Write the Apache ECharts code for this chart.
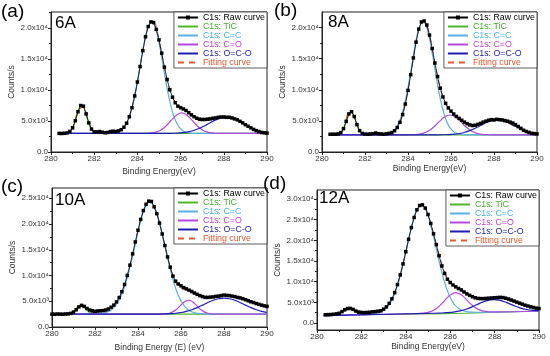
<!DOCTYPE html>
<html>
<head>
<meta charset="utf-8">
<script src="https://cdn.jsdelivr.net/npm/echarts@6/dist/echarts.min.js"></script>
<style>html,body{margin:0;padding:0;background:#fff}#c{width:550px;height:356px}</style>
</head>
<body>
<div id="c"></div>
<script>
// ---------- DATA ----------
const energy = [280,280.125,280.25,280.375,280.5,280.625,280.75,280.875,281,281.125,281.25,281.375,281.5,281.625,281.75,281.875,282,282.125,282.25,282.375,282.5,282.625,282.75,282.875,283,283.125,283.25,283.375,283.5,283.625,283.75,283.875,284,284.125,284.25,284.375,284.5,284.625,284.75,284.875,285,285.125,285.25,285.375,285.5,285.625,285.75,285.875,286,286.125,286.25,286.375,286.5,286.625,286.75,286.875,287,287.125,287.25,287.375,287.5,287.625,287.75,287.875,288,288.125,288.25,288.375,288.5,288.625,288.75,288.875,289,289.125,289.25,289.375,289.5,289.625,289.75,289.875,290];
const energyFit = [280,280.25,280.5,280.75,281,281.25,281.5,281.75,282,282.25,282.5,282.75,283,283.25,283.5,283.75,284,284.25,284.5,284.75,285,285.25,285.5,285.75,286,286.25,286.5,286.75,287,287.25,287.5,287.75,288,288.25,288.5,288.75,289,289.25,289.5,289.75,290];

// (a) 6A
const rawA = [null,null,null,3000,2990,3020,3080,3320,3900,5050,6500,7500,7400,6150,4700,3700,3250,3250,3300,3200,3100,3150,3300,3350,3300,3400,3600,4000,4650,5700,7150,9050,11300,13800,16350,18600,20250,21000,20900,19800,18100,15950,13700,11700,10050,8850,7950,7400,7150,6950,6700,6350,6000,5700,5450,5300,5250,5250,5300,5350,5450,5500,5600,5650,5650,5600,5600,5500,5350,5200,4950,4700,4400,4150,3900,3650,3450,3300,3150,3100,3050];
const fitA = [null,null,3000,3070,3910,6530,7340,4690,3210,3050,3020,3060,3150,3520,4660,7140,11310,16350,20240,20875,18070,13670,10015,8015,7190,6620,5950,5335,5060,5120,5360,5575,5650,5560,5300,4920,4450,3950,3500,3200,3080];
const ticA = [[280.4,3000],[280.62,3010],[280.72,3050],[280.82,3170],[280.92,3465],[281.02,4060],[281.12,5015],[281.22,6190],[281.32,7200],[281.42,7600],[281.52,7200],[281.62,6190],[281.72,5015],[281.82,4060],[281.92,3465],[282.02,3170],[282.12,3050],[282.22,3010],[290,3000]];
const ccA = [[280.4,3000],[282.46,3004],[282.66,3010],[282.86,3060],[283.06,3190],[283.26,3560],[283.46,4400],[283.66,6040],[283.86,8780],[284.06,12490],[284.26,16550],[284.46,19780],[284.66,21000],[284.86,19780],[285.06,16550],[285.26,12490],[285.46,8780],[285.66,6040],[285.86,4400],[286.06,3560],[286.26,3190],[286.46,3060],[286.66,3010],[286.86,3004],[290,3000]];
const coA = [[280.4,3000],[284.25,3007],[284.45,3024],[284.65,3076],[284.85,3206],[285.05,3482],[285.25,3960],[285.45,4650],[285.65,5425],[285.85,6056],[286.05,6300],[286.25,6056],[286.45,5425],[286.65,4650],[286.85,3960],[287.05,3482],[287.25,3206],[287.45,3076],[287.65,3024],[287.85,3007],[290,3000]];
const ocoA = [[280.4,3000],[285.35,3008],[285.6,3021],[285.85,3053],[286.1,3120],[286.35,3247],[286.6,3463],[286.85,3783],[287.1,4206],[287.35,4687],[287.6,5145],[287.85,5478],[288.1,5600],[288.35,5478],[288.6,5145],[288.85,4687],[289.1,4206],[289.35,3783],[289.6,3463],[289.85,3247],[290,3160]];

// (b) 8A
const rawB = [null,null,null,2850,2860,2850,2900,3120,3760,4920,6120,6480,5700,4400,3430,2980,2880,2850,2900,2950,3050,2950,2900,2850,2920,3000,3120,3420,3940,4770,6020,7710,9900,12430,15120,17650,19750,20900,21050,20410,18790,16630,14300,12125,10260,8850,7815,7080,6570,6110,5720,5400,5100,4800,4550,4350,4250,4300,4450,4600,4800,4950,5100,5200,5150,5250,5200,5150,5050,4950,4800,4650,4400,4100,3800,3500,3300,3150,3000,2950,2900];
const fitB = [null,null,2850,2900,3760,6120,5690,3430,2880,2800,2800,2810,2870,3110,3940,6020,9900,15120,19750,21050,18790,14300,10260,7815,6570,5720,4980,4430,4245,4410,4750,5080,5200,5170,4900,4500,4050,3600,3250,3000,2880];
const ticB = [[280.35,2750],[280.65,2766],[280.75,2819],[280.85,2984],[280.95,3384],[281.05,4130],[281.15,5158],[281.25,6106],[281.35,6500],[281.45,6106],[281.55,5158],[281.65,4130],[281.75,3384],[281.85,2984],[281.95,2819],[282.05,2766],[290,2750]];
const ccB = [[280.35,2750],[282.7,2765],[282.9,2808],[283.1,2943],[283.3,3314],[283.5,4170],[283.7,5826],[283.9,8592],[284.1,12341],[284.3,16455],[284.5,19712],[284.7,20950],[284.9,19712],[285.1,16455],[285.3,12341],[285.5,8592],[285.7,5826],[285.9,4170],[286.1,3314],[286.3,2943],[286.5,2808],[286.7,2765],[290,2750]];
const coB = [[280.35,2750],[283.95,2754],[284.2,2771],[284.45,2830],[284.7,2996],[284.95,3371],[285.2,4020],[285.45,4872],[285.7,5640],[285.95,5950],[286.2,5640],[286.45,4872],[286.7,4020],[286.95,3371],[287.2,2996],[287.45,2830],[287.7,2771],[287.95,2754],[290,2750]];
const ocoB = [[280.35,2750],[285.4,2757],[285.65,2770],[285.9,2799],[286.15,2860],[286.4,2978],[286.65,3177],[286.9,3472],[287.15,3864],[287.4,4308],[287.65,4730],[287.9,5037],[288.15,5150],[288.4,5037],[288.65,4730],[288.9,4308],[289.15,3864],[289.4,3472],[289.65,3177],[289.9,2978],[290,2925]];

// (c) 10A
const rawC = [2500,2480,2520,2500,2480,2520,2550,2650,2900,3350,3900,4200,4000,3600,3300,3150,3050,3100,3150,3200,3300,3500,3850,4250,4870,5710,6850,8270,10010,12010,14200,16520,18800,20890,22610,23830,24440,24380,23350,22010,20185,18065,15830,13610,11620,9890,8900,8350,8000,7650,7400,7150,6900,6600,6350,6100,5900,5750,5750,5800,5850,5950,6000,6100,6200,6150,6100,6000,5900,5750,5650,5500,5300,5100,4900,4750,4550,4400,4250,4100,4000];
const fitC = [2500,2500,2500,2530,2790,4020,3900,3000,2800,2900,3100,3650,4870,6850,10010,14200,18800,22610,24440,23350,20185,15830,11620,8630,7600,7200,6700,6200,5800,5700,5800,5950,6100,6050,5850,5600,5250,4850,4500,4200,3950];
const ticC = [[280,2500],[280.65,2505],[280.75,2530],[280.85,2610],[280.95,2790],[281.05,3130],[281.15,3590],[281.25,4020],[281.35,4200],[281.45,4020],[281.55,3590],[281.65,3130],[281.75,2790],[281.85,2610],[281.95,2530],[282.05,2505],[290,2500]];
const ccC = [[280,2500],[282.05,2540],[282.3,2630],[282.55,2870],[282.8,3460],[283.05,4700],[283.3,6930],[283.55,10370],[283.8,14800],[284.05,19400],[284.3,22950],[284.55,24300],[284.8,22950],[285.05,19400],[285.3,14800],[285.55,10370],[285.8,6930],[286.05,4700],[286.3,3460],[286.55,2870],[286.8,2630],[287.05,2540],[290,2500]];
const coC = [[280,2500],[285.15,2520],[285.3,2560],[285.45,2670],[285.6,2895],[285.75,3285],[285.9,3850],[286.05,4485],[286.2,5000],[286.35,5200],[286.5,5000],[286.65,4485],[286.8,3850],[286.95,3285],[287.1,2895],[287.25,2670],[287.4,2560],[287.55,2520],[290,2500]];
const ocoC = [[280,2500],[285,2515],[285.25,2540],[285.5,2590],[285.75,2670],[286,2810],[286.25,3040],[286.5,3350],[286.75,3770],[287,4250],[287.25,4750],[287.5,5190],[287.75,5490],[288,5600],[288.25,5490],[288.5,5190],[288.75,4750],[289,4250],[289.25,3770],[289.5,3350],[289.75,3040],[290,2810]];

// (d) 12A
const rawD = [null,null,null,2000,2020,2050,2100,2200,2350,2750,3200,3500,3520,3300,2900,2650,2550,2500,2550,2600,2700,2750,2850,2950,3350,3900,4750,5850,7350,9300,11650,14300,17250,20250,23100,25540,27400,28450,28600,27820,26260,24100,21580,18970,16300,13800,12000,10600,9800,9200,8750,8350,8000,7500,7050,6700,6350,6100,5950,5900,5900,5950,6000,6050,6100,6150,6200,6150,6000,5800,5550,5300,5050,4800,4550,4300,4100,3900,3750,3600,3500];
const fitD = [null,null,1950,2050,2280,3050,3420,2800,2400,2450,2600,2800,3300,4700,7300,11600,17200,23100,27400,28600,26260,21580,16535,12300,9900,8750,7900,7000,6300,5950,5900,6000,6100,6150,5950,5500,5000,4500,4050,3700,3450];
const ticD = [[280.3,1800],[280.7,1865],[280.85,1952],[281,2174],[281.15,2596],[281.3,3093],[281.45,3330],[281.6,3127],[281.75,2664],[281.9,2276],[282.05,2088],[282.2,2035],[290,2896]];
const ccD = [[280.3,1800],[282.2,2039],[282.45,2122],[282.7,2329],[282.95,2862],[283.2,4074],[283.45,6496],[283.7,10469],[283.95,15942],[284.2,21940],[284.45,26729],[284.7,28597],[284.95,26785],[285.2,22053],[285.45,16111],[285.7,10695],[285.95,6778],[286.2,4412],[286.45,3257],[286.7,2780],[286.95,2630],[287.2,2603],[290,2896]];
const coD = [[280.3,1800],[284.45,2279],[284.75,2367],[285.05,2643],[285.35,3401],[285.65,4855],[285.95,6558],[286.25,7372],[286.55,6626],[286.85,4990],[287.15,3604],[287.45,2914],[287.75,2706],[288.05,2686],[290,2896]];
const ocoD = [[280.3,1800],[285.25,2359],[285.55,2409],[285.85,2490],[286.15,2643],[286.45,2927],[286.75,3396],[287.05,4057],[287.35,4796],[287.65,5403],[287.95,5659],[288.25,5471],[288.55,4932],[288.85,4261],[289.15,3668],[289.45,3267],[289.75,3051],[290,2976]];

// axis ranges and tick labels
const yRanges = [[0,22600],[0,22500],[0,27000],[-1700,32200]];
const yMajors = [[0,5000,10000,15000,20000],[0,5000,10000,15000,20000],[0,5000,10000,15000,20000,25000],[0,5000,10000,15000,20000,25000,30000]];
const yMinors = [[2500,7500,12500,17500,22500],[2500,7500,12500,17500],[2500,7500,12500,17500,22500],[2500,7500,12500,17500,22500,27500]];
const panelLetters = ['(a)','(b)','(c)','(d)'];
const samples = ['6A','8A','10A','12A'];
const xTitles = ['Binding Energy(eV)','Binding Energy(eV)','Binding Energy (E) (eV)','Binding Energy(eV)'];
const seriesNames = ['C1s: Raw curve','C1s: TiC','C1s: C=C','C1s: C=O','C1s: O=C-O','Fitting curve'];

// ---------- LAYOUT / STYLE ----------
const layouts = [
  {left:51, top:12, width:216, height:140, yGap:35, xGap:15, letter:[1,2], sample:[55,15]},
  {left:322, top:12, width:215, height:140, yGap:33, xGap:12, letter:[274,1], sample:[328,14]},
  {left:52, top:188, width:215, height:139, yGap:30, xGap:16, letter:[1,177], sample:[55,192]},
  {left:317, top:190, width:222, height:140, yGap:30, xGap:9, letter:[263,174], sample:[319,190]}
];
const colors = {raw:'#000000', tic:'#4cb52c', cc:'#5aaee6', co:'#b448dc', oco:'#1c1cb4', fit:'#e35a2e'};
const textColors = ['#000000','#3fae2a','#3fb4e8','#c43ed2','#1c1cb0','#e3582c'];
const FONT = 'Liberation Sans, Arial, sans-serif';

const raws = [rawA,rawB,rawC,rawD];
const fits = [fitA,fitB,fitC,fitD];
const tics = [ticA,ticB,ticC,ticD];
const ccs = [ccA,ccB,ccC,ccD];
const cos = [coA,coB,coC,coD];
const ocos = [ocoA,ocoB,ocoC,ocoD];

const sup = {3:'\u00B3',4:'\u2074'};
function fmtY(v){
  if (Math.abs(v) < 1e-9) return '0.0';
  const e = Math.floor(Math.log10(v));
  const m = v/Math.pow(10,e);
  return m.toFixed(1)+'x10'+sup[e];
}
function zip(xs, ys){
  const out=[];
  for(let i=0;i<xs.length;i++){ if(ys[i]!==null && ys[i]!==undefined) out.push([xs[i],ys[i]]); }
  return out;
}

const grids=[], xAxes=[], yAxes=[], series=[], legends=[], graphics=[];
for (let i=0;i<4;i++){
  const L = layouts[i];
  grids.push({left:L.left, top:L.top, width:L.width, height:L.height, show:true, borderColor:'#222', borderWidth:1, backgroundColor:'transparent'});
  xAxes.push({gridIndex:i, type:'value', min:280, max:290, interval:2,
    axisLine:{show:true, onZero:false, lineStyle:{color:'#222', width:1}},
    axisTick:{show:true, length:3, lineStyle:{color:'#222'}},
    minorTick:{show:true, splitNumber:2, length:2, lineStyle:{color:'#222'}},
    splitLine:{show:false}, minorSplitLine:{show:false},
    axisLabel:{fontSize:8, color:'#333', margin:3, fontFamily:FONT, formatter:v=>String(v)},
    name:xTitles[i], nameLocation:'middle', nameGap:L.xGap,
    nameTextStyle:{fontSize:8.5, color:'#333', fontFamily:FONT}
  });
  yAxes.push({gridIndex:i, type:'value', min:yRanges[i][0], max:yRanges[i][1],
    axisLine:{show:true, onZero:false, lineStyle:{color:'#222', width:1}},
    axisTick:{show:true, length:3, customValues:yMajors[i], lineStyle:{color:'#222'}},
    axisLabel:{fontSize:8, color:'#333', margin:3, fontFamily:FONT, customValues:yMajors[i], formatter:fmtY},
    splitLine:{show:false},
    name:'Counts/s', nameLocation:'middle', nameGap:L.yGap,
    nameTextStyle:{fontSize:8.5, color:'#333', fontFamily:FONT}
  });
}
// overlay grids for minor y ticks
for (let i=0;i<4;i++){
  const L = layouts[i];
  grids.push({left:L.left, top:L.top, width:L.width, height:L.height, show:false});
  xAxes.push({gridIndex:4+i, type:'value', min:280, max:290, show:false});
  yAxes.push({gridIndex:4+i, type:'value', min:yRanges[i][0], max:yRanges[i][1],
    axisLine:{show:false, onZero:false}, axisLabel:{show:false}, splitLine:{show:false},
    axisTick:{show:true, length:2, customValues:yMinors[i], lineStyle:{color:'#222'}}
  });
}

for (let i=0;i<4;i++){
  const base = {xAxisIndex:i, yAxisIndex:i, type:'line', animation:false};
  series.push(Object.assign({}, base, {name:seriesNames[5], data:zip(energyFit, fits[i]), symbol:'none', smooth:0.4,
    lineStyle:{color:colors.fit, width:1.1, type:[6,5]}, itemStyle:{color:colors.fit}, z:2}));
  series.push(Object.assign({}, base, {name:seriesNames[1], data:tics[i], symbol:'none', smooth:0.4,
    lineStyle:{color:colors.tic, width:1.2}, itemStyle:{color:colors.tic}, z:3}));
  series.push(Object.assign({}, base, {name:seriesNames[2], data:ccs[i], symbol:'none', smooth:0.4,
    lineStyle:{color:colors.cc, width:1.2}, itemStyle:{color:colors.cc}, z:3}));
  series.push(Object.assign({}, base, {name:seriesNames[3], data:cos[i], symbol:'none', smooth:0.4,
    lineStyle:{color:colors.co, width:1.2}, itemStyle:{color:colors.co}, z:3}));
  series.push(Object.assign({}, base, {name:seriesNames[4], data:ocos[i], symbol:'none', smooth:0.4,
    lineStyle:{color:colors.oco, width:1.2}, itemStyle:{color:colors.oco}, z:3}));
  series.push(Object.assign({}, base, {name:seriesNames[0], data:zip(energy, raws[i]), symbol:'rect', symbolSize:3.5, showSymbol:true,
    lineStyle:{color:colors.raw, width:0.8}, itemStyle:{color:colors.raw}, z:5}));

  const L = layouts[i];
  legends.push({orient:'vertical', right:550-(L.left+L.width), top:L.top, align:'left',
    itemWidth:20, itemHeight:5, itemGap:0, padding:[1,2,1,3],
    borderColor:'#333', borderWidth:0.8, backgroundColor:'#ffffff',
    selectedMode:false,
    textStyle:{fontSize:8.8, lineHeight:9, fontFamily:FONT},
    data:seriesNames.map((n,k)=> k===0
      ? {name:n, textStyle:{color:textColors[k]}}
      : {name:n, textStyle:{color:textColors[k]}, itemStyle:{opacity:0, color:'rgba(0,0,0,0)', borderWidth:0}})
  });
  graphics.push({type:'text', left:L.letter[0], top:L.letter[1], z:10,
    style:{text:panelLetters[i], fontSize:19, fill:'#000', fontFamily:FONT}});
  graphics.push({type:'text', left:L.sample[0], top:L.sample[1], z:10,
    style:{text:samples[i], fontSize:17, fill:'#000', fontFamily:FONT}});
}

const chart = echarts.init(document.getElementById('c'), null, {renderer:'canvas'});
chart.setOption({
  animation:false,
  backgroundColor:'#ffffff',
  textStyle:{fontFamily:FONT},
  grid:grids, xAxis:xAxes, yAxis:yAxes, series:series, legend:legends, graphic:graphics
});
</script>
</body>
</html>
